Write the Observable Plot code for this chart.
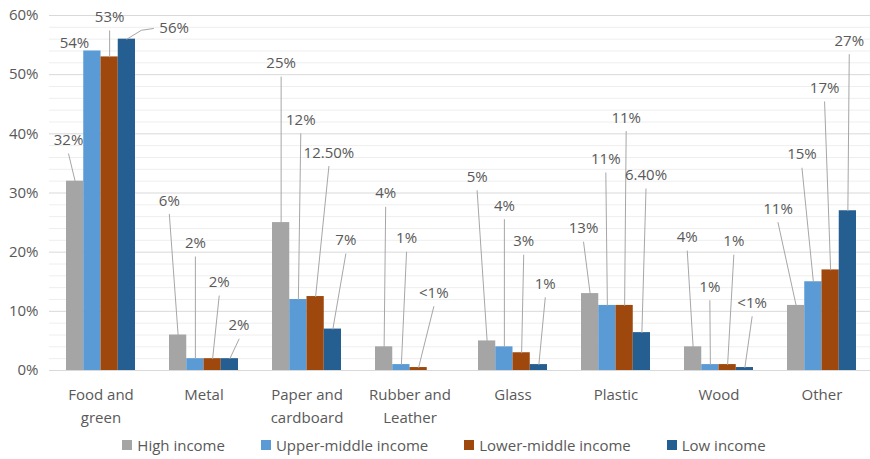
<!DOCTYPE html>
<html>
<head>
<meta charset="utf-8">
<script src="https://cdn.jsdelivr.net/npm/d3@7"></script>
<script src="https://cdn.jsdelivr.net/npm/@observablehq/plot@0.6"></script>
<style>
  html, body { margin: 0; padding: 0; background: #fff; overflow: hidden; }
  body { width: 870px; height: 459px; font-family: "Open Sans", sans-serif; }
  #chart svg { display: block; overflow: hidden; }
  .legend { display: flex; justify-content: center; align-items: center; margin-top: 3px; padding-left: 18px;
            font-size: 15px; line-height: 20px; color: #595959; }
  .legend .item { display: inline-flex; align-items: center; margin-right: 36px; }
  .legend .item:last-child { margin-right: 0; }
  .legend .swatch { width: 10px; height: 10px; margin-right: 5px; }
</style>
</head>
<body>
<div id="chart"></div>
<script>
// Waste composition by income group (% of total waste)
const categories = ["Food and green", "Metal", "Paper and cardboard", "Rubber and Leather", "Glass", "Plastic", "Wood", "Other"];
const categoryLabels = ["Food and\ngreen", "Metal", "Paper and\ncardboard", "Rubber and\nLeather", "Glass", "Plastic", "Wood", "Other"];
const series = ["High income", "Upper-middle income", "Lower-middle income", "Low income"];
const colors = ["#a5a5a5", "#5b9bd5", "#9e480e", "#255e91"];

const highIncome  = [32, 6, 25, 4, 5, 13, 4, 11];
const upperMiddle = [54, 2, 12, 1, 4, 11, 1, 15];
const lowerMiddle = [53, 2, 12.5, 0.5, 3, 11, 1, 17];
const lowIncome   = [56, 2, 7, null, 1, 6.4, 0.5, 27];

const highText  = ["32%", "6%", "25%", "4%", "5%", "13%", "4%", "11%"];
const upperText = ["54%", "2%", "12%", "1%", "4%", "11%", "1%", "15%"];
const lowerText = ["53%", "2%", "12.50%", "<1%", "3%", "11%", "1%", "17%"];
const lowText   = ["56%", "2%", "7%", null, "1%", "6.40%", "<1%", "27%"];

const yTicks = [0, 10, 20, 30, 40, 50, 60];

// Callout placement: [shift in bar widths, rise in percentage points above the bar top]
const calloutOffsets = [
  [[-0.38, 6.9], [-0.51, 22.7], [0, 26.9], [0.09, 25.9], [-0.58, 27.7], [-0.38, 11], [-0.34, 18.5], [-1.05, 16.3]],
  [[-1.04, 1.4], [0, 19.5], [0.14, 30.3], [0.3, 21.3], [0, 23.8], [-0.09, 24.7], [-0.03, 13.1], [-0.66, 21.5]],
  [[0, 6.7], [0.38, 12.9], [0.77, 24.3], [0.88, 12.6], [0.12, 18.8], [0.09, 31.7], [0.36, 20.8], [-0.35, 30.7]],
  [[2.74, 1.8], [0.53, 5.6], [0.75, 15], null, [0.37, 13.6], [0.24, 26.6], [0.42, 10.9], [0.08, 28.7]]
];
// Callouts whose leader runs sideways from the label with a bend
const elbowCallouts = [{category: "Food and green", series: 3}];

const values = [highIncome, upperMiddle, lowerMiddle, lowIncome];
const texts = [highText, upperText, lowerText, lowText];

const bars = [];
const labels = [];
const leaders = [];
series.forEach((s, si) => {
  categories.forEach((c, ci) => {
    const v = values[si][ci];
    if (v == null) return;
    bars.push({category: c, series: s, idx: si, value: v});
    const off = calloutOffsets[si][ci];
    const bx = si + 0.5;
    const lx = bx + off[0];
    const ly = v + off[1];
    labels.push({category: c, x: lx, y: ly, text: texts[si][ci]});
    const id = c + "|" + si;
    if (elbowCallouts.some(e => e.category === c && e.series === si)) {
      leaders.push({id, category: c, x: lx - 1.2, y: ly});
      leaders.push({id, category: c, x: bx + 0.84, y: v + 1.5});
      leaders.push({id, category: c, x: bx, y: v});
    } else if (off[1] >= 3) {
      leaders.push({id, category: c, x: lx, y: ly - 2.3});
      leaders.push({id, category: c, x: bx, y: v});
    }
  });
});

// Band layout of the category facets; each group holds four bars (x domain 0..4)
const paddingInner = 0.33;
const paddingOuter = paddingInner / 2;
const groupGap = (4 / (1 - paddingInner) - 4) / 2; // half the space between groups, in bar widths

const minorGrid = d3.range(0, 61, 2).filter(d => d % 10 !== 0);

const chart = Plot.plot({
  width: 870,
  height: 432,
  marginTop: 15,
  marginBottom: 62,
  marginLeft: 48,
  marginRight: -4,
  style: {fontFamily: "'Open Sans', sans-serif", fontSize: "15px", color: "#595959", background: "#fff"},
  fx: {domain: categories, paddingInner, paddingOuter, axis: null, label: null},
  x: {domain: [0, 4], axis: null},
  y: {domain: [0, 60], axis: null},
  color: {domain: series, range: colors},
  marks: [
    // gridlines span each facet plus its share of the gaps, so they run continuously
    Plot.ruleY(minorGrid, {x1: -groupGap, x2: 4 + groupGap, stroke: "#eeeeee"}),
    Plot.ruleY(yTicks, {x1: -groupGap, x2: 4 + groupGap, stroke: "#d9d9d9"}),
    Plot.rectY(bars, {fx: "category", x1: d => d.idx, x2: d => d.idx + 1, y: "value", fill: "series"}),
    Plot.line(leaders, {fx: "category", x: "x", y: "y", z: "id", stroke: "#a6a6a6", strokeWidth: 1}),
    Plot.text(labels, {fx: "category", x: "x", y: "y", text: "text", fontSize: 15, fill: "#595959", lineAnchor: "middle"}),
    // y tick labels, attached to the leftmost group at the frame edge
    Plot.text(yTicks, {fx: () => categories[0], x: -groupGap, y: d => d, text: d => d + "%",
                       textAnchor: "end", dx: -11, fontSize: 15, fill: "#595959"}),
    Plot.text(categories.map((c, i) => ({category: c, label: categoryLabels[i]})),
              {fx: "category", text: "label", frameAnchor: "bottom", lineAnchor: "top", dy: 13,
               lineHeight: 1.53, fontSize: 15, fill: "#595959"})
  ]
});

document.getElementById("chart").appendChild(chart);

// Legend below the chart
const legend = document.createElement("div");
legend.className = "legend";
series.forEach((s, i) => {
  const item = document.createElement("span");
  item.className = "item";
  const sw = document.createElement("span");
  sw.className = "swatch";
  sw.style.background = colors[i];
  const label = document.createElement("span");
  label.textContent = s;
  item.appendChild(sw);
  item.appendChild(label);
  legend.appendChild(item);
});
document.getElementById("chart").appendChild(legend);
</script>
</body>
</html>
